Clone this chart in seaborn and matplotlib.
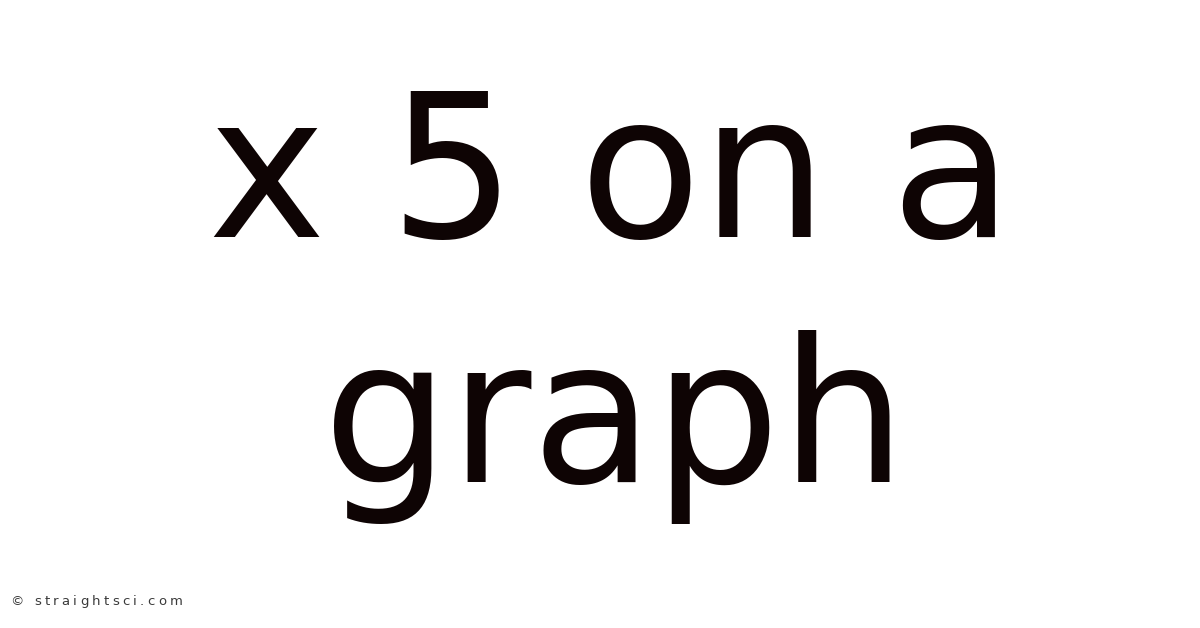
import matplotlib
matplotlib.use("Agg")
import matplotlib.pyplot as plt
import seaborn as sns

# ----------------------------------------------
# Text content
# ----------------------------------------------
title_lines = ["x 5 on a", "graph"]
watermark = "© straightsci.com"

sns.set_theme(style="white")
plt.rcParams['font.family'] = ['DejaVu Sans']

fig = plt.figure(figsize=(12, 6.28), dpi=100)
ax = fig.add_axes([0, 0, 1, 1])
ax.set_xlim(0, 1200)
ax.set_ylim(628, 0)
ax.axis("off")

# big title, two centred lines
centres = [610, 615]
baselines = [237, 482]
for line, xc, yb in zip(title_lines, centres, baselines):
    ax.text(xc, yb, line, ha="center", va="baseline",
            fontsize=143.5, color="#0e0404")

# watermark with a bit of letter spacing
renderer = fig.canvas.get_renderer()
x = 10
for ch in watermark:
    t = ax.text(x, 605, ch, ha="left", va="baseline",
                fontsize=9.5, color="#3a3a3a")
    w = t.get_window_extent(renderer=renderer).width
    if ch == " ":
        w = 4
    x += w + 3.3

fig.savefig("out.png", dpi=100, facecolor="white")
